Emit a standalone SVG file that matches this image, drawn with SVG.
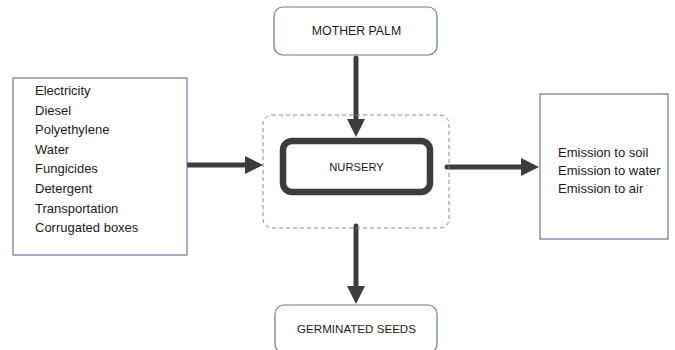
<svg xmlns="http://www.w3.org/2000/svg" width="675" height="350" viewBox="0 0 675 350">
<style>
.box{fill:#fff;stroke:#6b7891;stroke-width:1.2}
.t{font-family:"Liberation Sans",Arial,sans-serif;fill:#1a1a1a;font-size:13px}
.c{text-anchor:middle}
.arrow{stroke:#3c3c3c;stroke-width:5;stroke-linecap:round;fill:none}
</style>
<defs>
<marker id="ah" viewBox="0 0 18 18" refX="1" refY="9" markerWidth="18" markerHeight="18" markerUnits="userSpaceOnUse" orient="auto">
<path d="M0,0 L18,9 L0,18 z" fill="#3c3c3c"/>
</marker>
</defs>
<rect width="675" height="350" fill="#fff"/>
<g id="connectors">
<line class="arrow" x1="356" y1="58" x2="356" y2="120" marker-end="url(#ah)"/>
<line class="arrow" x1="188" y1="165" x2="246" y2="165" marker-end="url(#ah)"/>
<line class="arrow" x1="447" y1="167" x2="522" y2="167" marker-end="url(#ah)"/>
<line class="arrow" x1="356" y1="226" x2="356" y2="287" marker-end="url(#ah)"/>
</g>
<g id="inputs">
<rect class="box" x="13" y="78" width="174" height="177"/>
<text class="t" x="35" y="95">Electricity</text>
<text class="t" x="35" y="114.6">Diesel</text>
<text class="t" x="35" y="134.2">Polyethylene</text>
<text class="t" x="35" y="153.8">Water</text>
<text class="t" x="35" y="173.4">Fungicides</text>
<text class="t" x="35" y="193">Detergent</text>
<text class="t" x="35" y="212.6">Transportation</text>
<text class="t" x="35" y="232.2">Corrugated boxes</text>
</g>
<g id="mother-palm">
<rect class="box" x="274" y="7" width="163" height="48" rx="9"/>
<text class="t c" x="356.5" y="35" style="font-size:12.3px">MOTHER PALM</text>
</g>
<g id="nursery-boundary">
<rect x="263" y="115" width="186" height="113" rx="9" fill="none" stroke="#8a8a8a" stroke-width="1" stroke-dasharray="4,3"/>
</g>
<g id="nursery">
<rect x="283" y="141" width="147" height="51" rx="9" fill="#fff" stroke="#3c3c3c" stroke-width="6.5"/>
<text class="t c" x="356.5" y="171" style="font-size:11.2px">NURSERY</text>
</g>
<g id="emissions">
<rect class="box" x="540" y="94" width="128" height="145"/>
<text class="t" x="558" y="157">Emission to soil</text>
<text class="t" x="558" y="175">Emission to water</text>
<text class="t" x="558" y="193">Emission to air</text>
</g>
<g id="germinated-seeds">
<rect class="box" x="275" y="305" width="162" height="48" rx="9"/>
<text class="t c" x="356.5" y="333" style="font-size:11.6px">GERMINATED SEEDS</text>
</g>
</svg>
